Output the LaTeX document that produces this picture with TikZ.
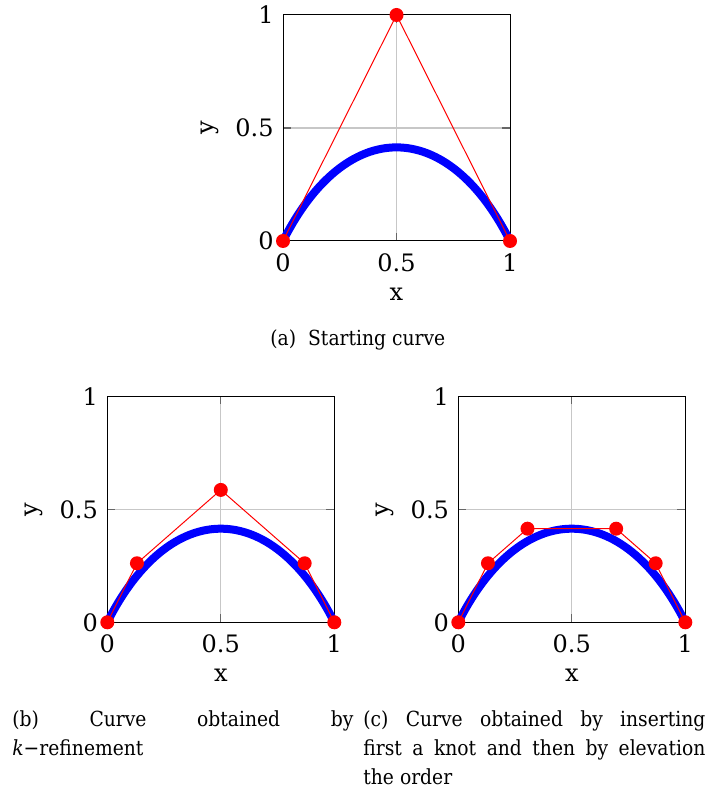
\documentclass[tikz,border=0pt]{standalone}
\usepackage{fontspec}
\setmainfont{DejaVu Serif}
\newfontfamily\capfont{DejaVu Serif}[FakeStretch=0.9]
\newcommand{\bspcurve}{%
  \draw[curvestyle] plot[domain=0:1, samples=121, smooth, variable=\t]
   ({(0.70711*\t*(1-\t)+\t*\t)/((1-\t)*(1-\t)+1.41421*\t*(1-\t)+\t*\t)},
    {(1.41421*\t*(1-\t))/((1-\t)*(1-\t)+1.41421*\t*(1-\t)+\t*\t)});}
\newcommand{\bspaxes}[1]{%
  \draw[gridline] (0.5,0) -- (0.5,1);
  \draw[gridline] (0,0.5) -- (1,0.5);
  \draw[tickmark] (0.5,0) -- ++(0,4pt);
  \draw[tickmark] (0.5,1) -- ++(0,-4pt);
  \draw[tickmark] (0,0.5) -- ++(4pt,0);
  \draw[tickmark] (1,0.5) -- ++(-4pt,0);
  \draw[framestyle] (0,0) rectangle (1,1);
  \node[ticklab, anchor=east, xshift=-4.5pt] (#1y0) at (0,0) {0};
  \node[ticklab, anchor=east, xshift=-4.5pt] (#1y5) at (0,0.5) {0.5};
  \node[ticklab, anchor=east, xshift=-4.5pt] (#1y1) at (0,1) {1};
  \node[ticklab, anchor=north, yshift=-6pt] (#1x0) at (0,0) {0};
  \node[ticklab, anchor=north, yshift=-6pt] (#1x5) at (0.5,0) {0.5};
  \node[ticklab, anchor=north, yshift=-6pt] (#1x1) at (1,0) {1};
  \node[axlab, xshift=-36.5pt, rotate=90] (#1ylab) at (0,0.5) {y};
  \node[axlab, yshift=-26.5pt] (#1xlab) at (0.5,0) {x};
  \bspcurve}
\begin{document}
\begin{tikzpicture}[x=0.5pt,y=-0.5pt,
  ticklab/.style={inner sep=0pt, font=\fontsize{12}{14}\selectfont},
  axlab/.style={inner sep=0pt, font=\fontsize{12}{14}\selectfont},
  captext/.style={inner sep=0pt, font=\capfont\fontsize{10.4}{14}\selectfont, anchor=base west, align=left},
  gridline/.style={draw=black!22, line width=0.6pt},
  tickmark/.style={draw=black!60, line width=0.6pt},
  framestyle/.style={draw=black, line width=0.5pt},
  curvestyle/.style={draw=blue, line width=4pt},
  poly/.style={draw=red, line width=0.5pt},
  ctrl/.style={fill=red, circle, inner sep=0pt, minimum size=7pt},
]
\useasboundingbox (0,0) rectangle (709,790);

% ---- panel (a)
\begin{scope}[shift={(283,241)}, x=113.5pt, y=113pt]
  \bspaxes{pa}
  \node[ctrl] (a0) at (0,0) {};
  \node[ctrl] (a1) at (0.5,1) {};
  \node[ctrl] (a2) at (1,0) {};
  \draw[poly] (a0.center) -- (a1.center) -- (a2.center);
\end{scope}
\node[captext] (capa) at (270,345) {(a)\hspace{6pt}Starting curve};

% ---- panel (b)
\begin{scope}[shift={(107.3,622.3)}, x=113.5pt, y=113pt]
  \bspaxes{pb}
  \node[ctrl] (b0) at (0,0) {};
  \node[ctrl] (b1) at (0.1306,0.2612) {};
  \node[ctrl] (b2) at (0.5,0.5858) {};
  \node[ctrl] (b3) at (0.8694,0.2612) {};
  \node[ctrl] (b4) at (1,0) {};
  \draw[poly] (b0.center) -- (b1.center) -- (b2.center) -- (b3.center) -- (b4.center);
\end{scope}
\node[captext, text width=170.5pt] (capb1) at (12,726.7) {(b)\hfill Curve\hfill obtained\hfill by};
\node[captext] (capb2) at (12,755.5) {\textit{k}−refinement};

% ---- panel (c)
\begin{scope}[shift={(458.3,622.3)}, x=113.5pt, y=113pt]
  \bspaxes{pc}
  \node[ctrl] (c0) at (0,0) {};
  \node[ctrl] (c1) at (0.1306,0.2612) {};
  \node[ctrl] (c2) at (0.3047,0.4142) {};
  \node[ctrl] (c3) at (0.6953,0.4142) {};
  \node[ctrl] (c4) at (0.8694,0.2612) {};
  \node[ctrl] (c5) at (1,0) {};
  \draw[poly] (c0.center) -- (c1.center) -- (c2.center) -- (c3.center) -- (c4.center) -- (c5.center);
\end{scope}
\node[captext, text width=171pt] (capc1) at (363,726.7) {(c)\hfill Curve\hfill obtained\hfill by\hfill inserting};
\node[captext, text width=171pt] (capc2) at (363,755.5) {first\hfill a\hfill knot\hfill and\hfill then\hfill by\hfill elevation};
\node[captext] (capc3) at (363,784.5) {the order};
\end{tikzpicture}
\end{document}
